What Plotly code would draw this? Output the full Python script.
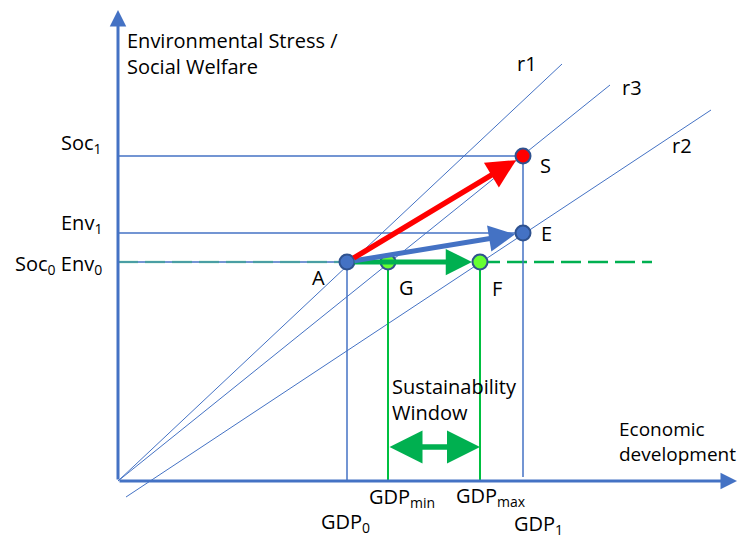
import plotly.graph_objects as go

# ---- conceptual diagram values (units: arbitrary, origin at axes corner) ----
gdp_levels = {"GDP0": 229, "GDPmin": 270, "GDPmax": 362, "GDP1": 405}
y_levels = {"Soc0": 219, "Env0": 219, "Env1": 248, "Soc1": 325}
axis_x_end = 619
axis_y_end = 471

ray_names = ["r1", "r3", "r2"]
ray_x = [[0, 444], [0, 492], [8, 593]]
ray_y = [[0, 417], [0, 396], [-16, 371]]
ray_label_xy = [(409, 418), (514, 394), (564, 336)]

point_names = ["A", "G", "F", "S", "E"]
point_x = [229, 270, 362, 405, 405]
point_y = [219, 219, 219, 325, 248]
point_fill = ["#4472C4", "#66FF33", "#66FF33", "#FF0000", "#4472C4"]
point_label_xy = [(200, 204), (288, 194), (379, 193), (427, 316), (428, 248)]

dash_end = 534
window_y = 34

BLUE = "#4472C4"
GREEN = "#00B050"
RED = "#FF0000"
FONT = "Open Sans"
FS = 20

fig = go.Figure()

def line(xs, ys, color=BLUE, width=1, dash="solid", opacity=1.0):
    fig.add_trace(go.Scatter(x=xs, y=ys, mode="lines", opacity=opacity,
                             line=dict(color=color, width=width, dash=dash),
                             hoverinfo="skip", showlegend=False))

g0, gmin, gmax, g1 = gdp_levels["GDP0"], gdp_levels["GDPmin"], gdp_levels["GDPmax"], gdp_levels["GDP1"]
s0, e1, s1 = y_levels["Soc0"], y_levels["Env1"], y_levels["Soc1"]

# rays
for xs, ys in zip(ray_x, ray_y):
    line(xs, ys, width=1)

# horizontal guide lines
line([0, g1], [s1, s1], width=1.5)
line([0, g1], [e1, e1], width=1.5)
line([0, g0], [s0, s0], width=1.5)
line([0, g0], [s0, s0], color=GREEN, width=2.5, dash="20px,7px", opacity=0.35)
line([gmax, dash_end], [s0, s0], color=GREEN, width=2.5, dash="20px,7px")

# vertical guide lines
line([g0, g0], [0, s0], width=1.5)
line([g1, g1], [4, s1], width=1.5)
line([gmin, gmin], [0, s0], color="#00C040", width=2)
line([gmax, gmax], [0, s0], color="#00C040", width=2)

anns = []

def arrow(x0, y0, x1, y1, color, width, size=1.0, head=2, standoff=0, startstandoff=0, side="end"):
    anns.append(dict(x=x1, y=y1, ax=x0, ay=y0, xref="x", yref="y", axref="x", ayref="y",
                     text="", showarrow=True, arrowhead=head, startarrowhead=head,
                     arrowsize=size, startarrowsize=size, arrowwidth=width,
                     arrowcolor=color, standoff=standoff, startstandoff=startstandoff,
                     arrowside=side))

# axes
arrow(0, 0, axis_x_end, 0, BLUE, 3, size=1.1)
arrow(0, 0, 0, axis_y_end, BLUE, 3, size=1.1)

# movement arrows
ia = point_names.index("A")
iS = point_names.index("S")
iE = point_names.index("E")
iF = point_names.index("F")
arrow(point_x[ia], point_y[ia], point_x[iF], point_y[iF], GREEN, 5, size=1.05, standoff=8, startstandoff=6)
arrow(point_x[ia], point_y[ia], point_x[iE], point_y[iE], BLUE, 5, size=1.05, standoff=8, startstandoff=6)
arrow(point_x[ia], point_y[ia], point_x[iS], point_y[iS], RED, 5.5, size=1.05, standoff=8, startstandoff=6)
# sustainability window double arrow
arrow(gmin, window_y, gmax, window_y, GREEN, 5.5, size=1.2, side="end+start")

# points
fig.add_trace(go.Scatter(x=point_x, y=point_y, mode="markers",
                         marker=dict(size=15, color=point_fill, line=dict(color="#2F528F", width=2)),
                         hoverinfo="skip", showlegend=False))

def text(x, y, t, xanchor="center", yanchor="middle", size=FS, align="left"):
    anns.append(dict(x=x, y=y, xref="x", yref="y", text=t, showarrow=False,
                     xanchor=xanchor, yanchor=yanchor, align=align,
                     font=dict(family=FONT, size=size, color="black")))

for name, (lx, ly) in zip(ray_names, ray_label_xy):
    text(lx, ly, name)
for name, (lx, ly) in zip(point_names, point_label_xy):
    text(lx, ly, name)

text(7, 428, "Environmental Stress /<br>Social Welfare", xanchor="left")
text(499, 40, "Economic<br>development", xanchor="left", size=19)
text(272, 82, "Sustainability<br>Window", xanchor="left")
text(-14, 338, "Soc<sub>1</sub>", xanchor="right")
text(-14, 258, "Env<sub>1</sub>", xanchor="right")
text(-14, 217, "Soc<sub>0</sub> Env<sub>0</sub>", xanchor="right")
text(284, -16, "GDP<sub>min</sub>")
text(373, -15, "GDP<sub>max</sub>")
text(227, -41, "GDP<sub>0</sub>")
text(420, -43, "GDP<sub>1</sub>")

fig.update_layout(
    width=739, height=540,
    margin=dict(l=0, r=0, t=0, b=0),
    paper_bgcolor="white", plot_bgcolor="white",
    xaxis=dict(visible=False, range=[-118, 621], fixedrange=True),
    yaxis=dict(visible=False, range=[-59, 481], fixedrange=True),
    annotations=anns,
    showlegend=False,
)

fig.write_html("out.html", config={"displayModeBar": False},
               post_script="document.body.style.margin='0';document.body.style.overflow='hidden';")
